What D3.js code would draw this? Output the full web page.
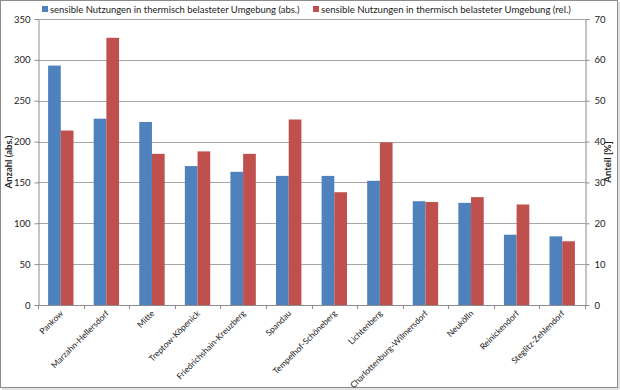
<!DOCTYPE html>
<html><head><meta charset="utf-8">
<script src="https://cdn.jsdelivr.net/npm/d3@7"></script>
<style>
body{margin:0;background:#fff;}
svg{display:block;font-family:Lato,"Open Sans",Arial,sans-serif;}
</style></head>
<body>
<svg id="c" width="620" height="390"></svg>
<script>
const categories = ["Pankow","Marzahn-Hellersdorf","Mitte","Treptow-Köpenick","Friedrichshain-Kreuzberg","Spandau","Tempelhof-Schöneberg","Lichtenberg","Charlottenburg-Wilmersdorf","Neukölln","Reinickendorf","Steglitz-Zehlendorf"];
const absValues = [293, 228, 224, 170, 163, 158, 158, 152, 127, 125, 86, 84];
const relValues = [42.7, 65.4, 37.0, 37.6, 37.0, 45.4, 27.6, 39.8, 25.2, 26.4, 24.6, 15.6];
const leftTicks = [0,50,100,150,200,250,300,350];
const rightTicks = [0,10,20,30,40,50,60,70];
const seriesNames = ["sensible Nutzungen in thermisch belasteter Umgebung (abs.)","sensible Nutzungen in thermisch belasteter Umgebung (rel.)"];
const colors = ["#4F81BD","#C0504D"];

const svg = d3.select("#c");
const L = 38, R = 585, T = 19, B = 305;
const FONT = "Lato,'Open Sans',Arial,sans-serif";

// frame
svg.append("rect").attr("x",0.5).attr("y",0.5).attr("width",617).attr("height",387)
  .attr("fill","#fff").attr("stroke","#8c8c8c");
svg.append("line").attr("x1",2).attr("x2",619).attr("y1",389).attr("y2",389).attr("stroke","#c8c8c8");
svg.append("line").attr("x1",619).attr("x2",619).attr("y1",2).attr("y2",389).attr("stroke","#c8c8c8");

const x = d3.scaleBand().domain(categories).range([L,R]).paddingInner(0.443).paddingOuter(0.2215);
const xs = d3.scaleBand().domain([0,1]).range([0,x.bandwidth()]);
const yL = d3.scaleLinear().domain([0,350]).range([B,T]);
const yR = d3.scaleLinear().domain([0,70]).range([B,T]);

// gridlines
svg.append("g").selectAll("line").data(leftTicks.slice(1)).join("line")
  .attr("x1",L).attr("x2",R).attr("y1",d=>Math.round(yL(d))+0.5).attr("y2",d=>Math.round(yL(d))+0.5)
  .attr("stroke","#a6a6a6");

// bars
const g = svg.append("g");
g.selectAll(".a").data(categories).join("rect")
  .attr("x",(d)=>x(d)+xs(0)).attr("width",xs.bandwidth())
  .attr("y",(d,i)=>yL(absValues[i])).attr("height",(d,i)=>B-yL(absValues[i]))
  .attr("fill",colors[0]);
g.selectAll(".r").data(categories).join("rect")
  .attr("x",(d)=>x(d)+xs(1)).attr("width",xs.bandwidth())
  .attr("y",(d,i)=>yR(relValues[i])).attr("height",(d,i)=>B-yR(relValues[i]))
  .attr("fill",colors[1]);

// axes
const axL = d3.axisLeft(yL).tickValues(leftTicks).tickSize(4).tickPadding(4);
const axR = d3.axisRight(yR).tickValues(rightTicks).tickSize(4).tickPadding(5);
function styleAxis(sel){
  sel.selectAll("path").attr("stroke","#8c8c8c");
  sel.selectAll("line").attr("stroke","#8c8c8c");
  sel.selectAll("text").attr("fill","#222").style("font-size","9.5px").style("font-family",FONT);
}
svg.append("g").attr("transform",`translate(${L+0.5},0)`).call(axL.tickSizeOuter(0)).call(styleAxis);
svg.append("g").attr("transform",`translate(${R+0.5},0)`).call(axR.tickSizeOuter(0)).call(styleAxis);

// bottom axis
svg.append("line").attr("x1",L).attr("x2",R+1).attr("y1",B+0.5).attr("y2",B+0.5).attr("stroke","#8c8c8c");
const bounds = categories.map(c=>x(c)-x.step()*x.paddingInner()/2).concat([R]);
svg.append("g").selectAll("line").data(bounds).join("line")
  .attr("x1",d=>Math.round(d)+0.5).attr("x2",d=>Math.round(d)+0.5).attr("y1",B).attr("y2",B+4).attr("stroke","#8c8c8c");

const xl = svg.append("g").selectAll("text").data(categories).join("text")
  .attr("transform",d=>`translate(${x(d)+x.bandwidth()/2+3},${B+9}) rotate(-45)`)
  .attr("text-anchor","end").attr("fill","#222").style("font-size","9px").text(d=>d);
// fit label size so the longest label spans ~106px
const longest = xl.filter(d=>d==="Charlottenburg-Wilmersdorf").node();
const fs = 9*106/longest.getComputedTextLength();
xl.style("font-size",fs+"px");

// axis titles
svg.append("text").attr("transform",`translate(12,${(T+B)/2}) rotate(-90)`)
  .attr("text-anchor","middle").attr("font-weight","bold").style("font-size","9.5px").attr("fill","#222").text("Anzahl (abs.)");
svg.append("text").attr("transform",`translate(611,${(T+B)/2}) rotate(-90)`)
  .attr("text-anchor","middle").attr("font-weight","bold").style("font-size","9.5px").attr("fill","#222").text("Anteil [%]");

// legend
const leg = [[42,seriesNames[0]],[313,seriesNames[1]]];
leg.forEach((l,i)=>{
  svg.append("rect").attr("x",l[0]).attr("y",6).attr("width",6).attr("height",6).attr("fill",colors[i]);
  const t = svg.append("text").attr("x",l[0]+8).attr("y",12.5).style("font-size","10px").attr("fill","#222").text(l[1]);
  const w = t.node().getComputedTextLength();
  t.style("font-size",(10*250/w)+"px");
});
</script>
</body></html>
